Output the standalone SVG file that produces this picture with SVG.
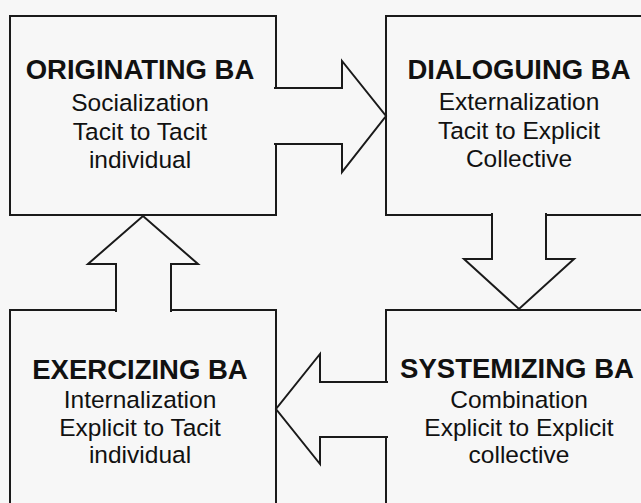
<svg xmlns="http://www.w3.org/2000/svg" width="641" height="503" viewBox="0 0 641 503">
<style>
.box{fill:none;stroke:#1a1a1a;stroke-width:2}
.arrow{fill:#f7f7f7;stroke:#1a1a1a;stroke-width:2;stroke-linejoin:miter}
.title{font-family:"Liberation Sans",Arial,sans-serif;font-weight:bold;font-size:27.5px;fill:#111;text-anchor:middle}
.body{font-family:"Liberation Sans",Arial,sans-serif;font-size:24.5px;fill:#111;text-anchor:middle}
</style>
<rect x="0" y="0" width="641" height="503" fill="#f7f7f7"/>
<g id="originating">
<rect class="box" x="10" y="16" width="266" height="199"/>
<text class="title" x="140" y="79">ORIGINATING BA</text>
<text class="body" x="140" y="111">Socialization</text>
<text class="body" x="140" y="140">Tacit to Tacit</text>
<text class="body" x="140" y="168">individual</text>
</g>
<g id="dialoguing">
<rect class="box" x="386" y="16" width="270" height="199"/>
<text class="title" x="519" y="79">DIALOGUING BA</text>
<text class="body" x="519" y="110">Externalization</text>
<text class="body" x="519" y="139">Tacit to Explicit</text>
<text class="body" x="519" y="167">Collective</text>
</g>
<g id="systemizing">
<rect class="box" x="386" y="310" width="270" height="220"/>
<text class="title" x="517" y="378">SYSTEMIZING BA</text>
<text class="body" x="519" y="408">Combination</text>
<text class="body" x="519" y="436">Explicit to Explicit</text>
<text class="body" x="519" y="463">collective</text>
</g>
<g id="exercizing">
<rect class="box" x="10" y="310" width="266" height="220"/>
<text class="title" x="140" y="379">EXERCIZING BA</text>
<text class="body" x="140" y="408">Internalization</text>
<text class="body" x="140" y="436">Explicit to Tacit</text>
<text class="body" x="140" y="463">individual</text>
</g>
<g id="connectors">
<path class="arrow" d="M274,88 H342 V61 L386,116 L342,172 V144 H274"/>
<path class="arrow" d="M492,213 V259 H464 L519,309 L574,259 H546 V213"/>
<path class="arrow" d="M388,382 H320 V354 L276,409 L320,464 V437 H388"/>
<path class="arrow" d="M116,312 V264 H88 L143,216 L198,264 H171 V312"/>
</g>
</svg>
